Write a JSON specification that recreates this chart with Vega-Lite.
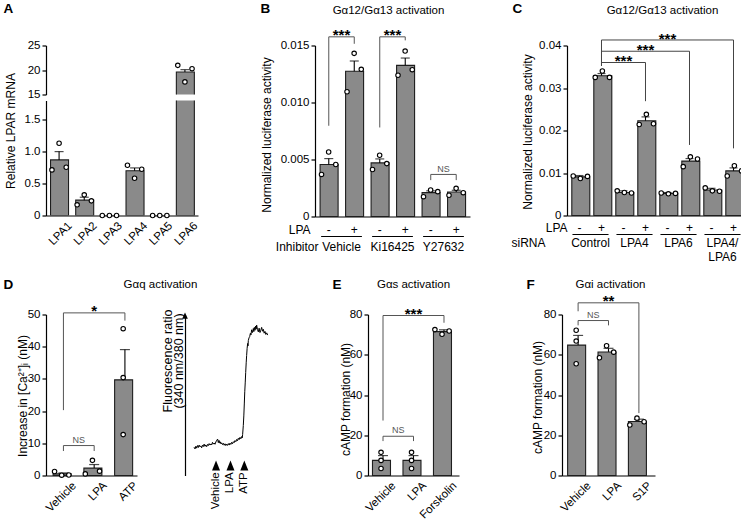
{
  "$schema": "https://vega.github.io/schema/vega-lite/v6.json",
  "padding": {"left": 3, "top": 1.5, "right": 0, "bottom": 0},
  "config": {
    "font": "Liberation Sans",
    "view": {"stroke": null},
    "axis": {"labelFont": "Liberation Sans", "titleFont": "Liberation Sans", "labelFontSize": 11.5, "titleFontSize": 12, "titleFontWeight": "normal", "labelColor": "#000000", "titleColor": "#000000", "domainColor": "#000000", "tickColor": "#000000", "domainWidth": 1.2, "tickWidth": 1.2, "tickSize": 4, "labelPadding": 2, "grid": false, "labelFlush": false, "labelOverlap": false},
    "text": {"font": "Liberation Sans"}
  },
  "datasets": {
    "A_bars": [
      {"gene": "LPA1", "mean": 0.87, "upper": 1.0},
      {"gene": "LPA2", "mean": 0.24, "upper": 0.286},
      {"gene": "LPA3", "mean": 0, "upper": 0},
      {"gene": "LPA4", "mean": 0.70, "upper": 0.745},
      {"gene": "LPA5", "mean": 0, "upper": 0},
      {"gene": "LPA6", "mean": 19.6, "upper": 20.07}
    ],
    "A_pts": [
      {"gene": "LPA1", "rep": "L", "value": 0.714}, {"gene": "LPA1", "rep": "C", "value": 1.13}, {"gene": "LPA1", "rep": "R", "value": 0.755},
      {"gene": "LPA2", "rep": "L", "value": 0.167}, {"gene": "LPA2", "rep": "C", "value": 0.323}, {"gene": "LPA2", "rep": "R", "value": 0.229},
      {"gene": "LPA3", "rep": "L", "value": 0}, {"gene": "LPA3", "rep": "C", "value": 0}, {"gene": "LPA3", "rep": "R", "value": 0},
      {"gene": "LPA4", "rep": "L", "value": 0.786}, {"gene": "LPA4", "rep": "C", "value": 0.583}, {"gene": "LPA4", "rep": "R", "value": 0.724},
      {"gene": "LPA5", "rep": "L", "value": 0}, {"gene": "LPA5", "rep": "C", "value": 0}, {"gene": "LPA5", "rep": "R", "value": 0},
      {"gene": "LPA6", "rep": "L", "value": 20.95}, {"gene": "LPA6", "rep": "C", "value": 17.57}, {"gene": "LPA6", "rep": "R", "value": 20.27}
    ],
    "B_bars": [
      {"cat": "Vehicle -", "mean": 0.00456, "upper": 0.00508},
      {"cat": "Vehicle +", "mean": 0.01274, "upper": 0.01364},
      {"cat": "Ki16425 -", "mean": 0.0047, "upper": 0.00505},
      {"cat": "Ki16425 +", "mean": 0.01326, "upper": 0.0139},
      {"cat": "Y27632 -", "mean": 0.00209, "upper": 0.00225},
      {"cat": "Y27632 +", "mean": 0.00215, "upper": 0.0023}
    ],
    "B_pts": [
      {"cat": "Vehicle -", "rep": "L", "value": 0.00369}, {"cat": "Vehicle -", "rep": "C", "value": 0.00566}, {"cat": "Vehicle -", "rep": "R", "value": 0.00456},
      {"cat": "Vehicle +", "rep": "L", "value": 0.01094}, {"cat": "Vehicle +", "rep": "C", "value": 0.01431}, {"cat": "Vehicle +", "rep": "R", "value": 0.01291},
      {"cat": "Ki16425 -", "rep": "L", "value": 0.00412}, {"cat": "Ki16425 -", "rep": "C", "value": 0.00537}, {"cat": "Ki16425 -", "rep": "R", "value": 0.00464},
      {"cat": "Ki16425 +", "rep": "L", "value": 0.01239}, {"cat": "Ki16425 +", "rep": "C", "value": 0.01451}, {"cat": "Ki16425 +", "rep": "R", "value": 0.01288},
      {"cat": "Y27632 -", "rep": "L", "value": 0.00174}, {"cat": "Y27632 -", "rep": "C", "value": 0.00232}, {"cat": "Y27632 -", "rep": "R", "value": 0.00218},
      {"cat": "Y27632 +", "rep": "L", "value": 0.00186}, {"cat": "Y27632 +", "rep": "C", "value": 0.00247}, {"cat": "Y27632 +", "rep": "R", "value": 0.00209}
    ],
    "B_br": [
      {"left": "Vehicle -", "right": "Vehicle +", "top": 0.01576, "lb": 0.00796, "rb": 0.01515, "label": "***"},
      {"left": "Ki16425 -", "right": "Ki16425 +", "top": 0.01576, "lb": 0.00781, "rb": 0.01545, "label": "***"},
      {"left": "Y27632 -", "right": "Y27632 +", "top": 0.00369, "lb": 0.00319, "rb": 0.00319, "label": "NS"}
    ],
    "B_groups": [{"group": "Vehicle"}, {"group": "Ki16425"}, {"group": "Y27632"}],
    "C_bars": [
      {"cat": "Control -", "mean": 0.0091, "upper": 0.0094},
      {"cat": "Control +", "mean": 0.0329, "upper": 0.0334},
      {"cat": "LPA4 -", "mean": 0.0054, "upper": 0.0058},
      {"cat": "LPA4 +", "mean": 0.0223, "upper": 0.0232},
      {"cat": "LPA6 -", "mean": 0.0052, "upper": 0.0054},
      {"cat": "LPA6 +", "mean": 0.0128, "upper": 0.0134},
      {"cat": "LPA4/LPA6 -", "mean": 0.006, "upper": 0.0064},
      {"cat": "LPA4/LPA6 +", "mean": 0.0105, "upper": 0.0112}
    ],
    "C_pts": [
      {"cat": "Control -", "rep": "L", "value": 0.0093}, {"cat": "Control -", "rep": "C", "value": 0.0087}, {"cat": "Control -", "rep": "R", "value": 0.0092},
      {"cat": "Control +", "rep": "L", "value": 0.0325}, {"cat": "Control +", "rep": "C", "value": 0.034}, {"cat": "Control +", "rep": "R", "value": 0.0325},
      {"cat": "LPA4 -", "rep": "L", "value": 0.0058}, {"cat": "LPA4 -", "rep": "C", "value": 0.0054}, {"cat": "LPA4 -", "rep": "R", "value": 0.0053},
      {"cat": "LPA4 +", "rep": "L", "value": 0.0214}, {"cat": "LPA4 +", "rep": "C", "value": 0.0238}, {"cat": "LPA4 +", "rep": "R", "value": 0.0216},
      {"cat": "LPA6 -", "rep": "L", "value": 0.0053}, {"cat": "LPA6 -", "rep": "C", "value": 0.0051}, {"cat": "LPA6 -", "rep": "R", "value": 0.0052},
      {"cat": "LPA6 +", "rep": "L", "value": 0.0115}, {"cat": "LPA6 +", "rep": "C", "value": 0.0138}, {"cat": "LPA6 +", "rep": "R", "value": 0.0133},
      {"cat": "LPA4/LPA6 -", "rep": "L", "value": 0.0065}, {"cat": "LPA4/LPA6 -", "rep": "C", "value": 0.0058}, {"cat": "LPA4/LPA6 -", "rep": "R", "value": 0.0057},
      {"cat": "LPA4/LPA6 +", "rep": "L", "value": 0.0093}, {"cat": "LPA4/LPA6 +", "rep": "C", "value": 0.0117}, {"cat": "LPA4/LPA6 +", "rep": "R", "value": 0.0105}
    ],
    "C_br": [
      {"left": "Control +", "right": "LPA4 +", "mid": "LPA4 -", "top": 0.036, "lb": 0.0352, "rb": 0.0269, "label": "***"},
      {"left": "Control +", "right": "LPA6 +", "mid": "LPA4 +", "top": 0.03865, "lb": 0.0352, "rb": 0.0166, "label": "***"},
      {"left": "Control +", "right": "LPA4/LPA6 +", "mid": "LPA6 -", "top": 0.0413, "lb": 0.0352, "rb": 0.0158, "label": "***"}
    ],
    "C_groups": [{"group": "Control"}, {"group": "LPA4"}, {"group": "LPA6"}, {"group": "LPA4/LPA6"}],
    "D_bars": [
      {"cond": "Vehicle", "mean": 0.5, "upper": 0.8},
      {"cond": "LPA", "mean": 2.3, "upper": 3.4},
      {"cond": "ATP", "mean": 29.7, "upper": 39.1}
    ],
    "D_pts": [
      {"cond": "Vehicle", "rep": "L", "value": 1.25}, {"cond": "Vehicle", "rep": "C", "value": 0.1}, {"cond": "Vehicle", "rep": "R", "value": 0.15},
      {"cond": "LPA", "rep": "L", "value": 0.5}, {"cond": "LPA", "rep": "C", "value": 4.7}, {"cond": "LPA", "rep": "R", "value": 1.35},
      {"cond": "ATP", "rep": "C", "value": 45.6}, {"cond": "ATP", "rep": "C", "value": 30.4}, {"cond": "ATP", "rep": "C", "value": 12.7}
    ],
    "D_br": [
      {"left": "Vehicle", "right": "ATP", "mid": "LPA", "top": 50.5, "lb": 20.3, "rb": 48.1, "label": "*"},
      {"left": "Vehicle", "right": "LPA", "mid": "Vehicle", "top": 9.3, "lb": 7.6, "rb": 7.6, "label": "NS"}
    ],
    "D_trace": [
      {"t": 10.6, "v": 17.6}, {"t": 11.8, "v": 16.5}, {"t": 12.8, "v": 18.2}, {"t": 13.7, "v": 17.0}, {"t": 14.7, "v": 18.6}, {"t": 15.7, "v": 17.4}, {"t": 16.6, "v": 18.9}, {"t": 17.6, "v": 17.8}, {"t": 18.6, "v": 18.4}, {"t": 19.6, "v": 17.2},
      {"t": 20.6, "v": 18.8}, {"t": 21.6, "v": 18.0}, {"t": 22.5, "v": 19.5}, {"t": 23.5, "v": 18.1}, {"t": 24.5, "v": 19.0}, {"t": 25.5, "v": 17.9}, {"t": 26.5, "v": 19.3}, {"t": 27.5, "v": 18.6}, {"t": 28.4, "v": 19.8}, {"t": 29.4, "v": 18.9},
      {"t": 30.4, "v": 19.6}, {"t": 31.4, "v": 19.0}, {"t": 32.3, "v": 20.6}, {"t": 33.3, "v": 19.5}, {"t": 34.3, "v": 20.2}, {"t": 35.3, "v": 19.4}, {"t": 36.3, "v": 20.8}, {"t": 37.3, "v": 21.9}, {"t": 38.4, "v": 22.6}, {"t": 39.2, "v": 20.4},
      {"t": 40.0, "v": 21.8}, {"t": 41.0, "v": 20.1}, {"t": 41.6, "v": 20.9}, {"t": 42.4, "v": 19.6}, {"t": 43.1, "v": 20.3}, {"t": 44.1, "v": 19.2}, {"t": 45.1, "v": 20.0}, {"t": 46.1, "v": 18.8}, {"t": 47.1, "v": 19.7}, {"t": 48.0, "v": 18.6},
      {"t": 49.0, "v": 19.5}, {"t": 50.0, "v": 18.7}, {"t": 51.0, "v": 19.8}, {"t": 52.0, "v": 18.9}, {"t": 52.9, "v": 20.1}, {"t": 53.9, "v": 19.3}, {"t": 54.9, "v": 20.6}, {"t": 55.9, "v": 19.7}, {"t": 56.9, "v": 21.0}, {"t": 57.8, "v": 20.4},
      {"t": 58.8, "v": 21.7}, {"t": 59.8, "v": 21.0}, {"t": 60.8, "v": 22.4}, {"t": 61.8, "v": 21.6}, {"t": 62.7, "v": 23.1}, {"t": 63.7, "v": 22.3}, {"t": 64.7, "v": 23.7}, {"t": 65.7, "v": 22.8}, {"t": 66.7, "v": 24.2}, {"t": 67.4, "v": 23.4},
      {"t": 67.8, "v": 25.5}, {"t": 68.6, "v": 31.0}, {"t": 69.2, "v": 37.0}, {"t": 69.8, "v": 45.0}, {"t": 70.3, "v": 52.0}, {"t": 70.9, "v": 58.0}, {"t": 71.4, "v": 64.0}, {"t": 72.0, "v": 70.0}, {"t": 72.5, "v": 74.5}, {"t": 73.1, "v": 79.0},
      {"t": 73.7, "v": 82.0}, {"t": 74.1, "v": 80.5}, {"t": 74.5, "v": 83.8}, {"t": 75.3, "v": 85.5}, {"t": 76.1, "v": 86.2}, {"t": 76.9, "v": 88.3}, {"t": 77.6, "v": 87.3}, {"t": 78.4, "v": 90.5}, {"t": 79.4, "v": 88.8}, {"t": 80.4, "v": 91.3},
      {"t": 81.0, "v": 89.4}, {"t": 81.6, "v": 92.0}, {"t": 82.4, "v": 90.2}, {"t": 83.1, "v": 92.8}, {"t": 83.7, "v": 90.9}, {"t": 84.3, "v": 93.4}, {"t": 85.3, "v": 90.6}, {"t": 86.3, "v": 89.2}, {"t": 87.2, "v": 91.5}, {"t": 88.2, "v": 88.8},
      {"t": 89.2, "v": 90.2}, {"t": 90.2, "v": 92.0}, {"t": 91.2, "v": 89.6}, {"t": 92.2, "v": 90.8}, {"t": 93.1, "v": 88.4}, {"t": 94.1, "v": 89.5}, {"t": 95.1, "v": 87.6}, {"t": 96.1, "v": 88.6}, {"t": 97.3, "v": 87.2}
    ],
    "D_stim": [{"stim": "Vehicle", "t": 36.5}, {"stim": "LPA", "t": 53.5}, {"stim": "ATP", "t": 69.8}],
    "E_bars": [
      {"cond": "Vehicle", "mean": 7.5, "upper": 9.9},
      {"cond": "LPA", "mean": 7.5, "upper": 9.9},
      {"cond": "Forskolin", "mean": 71.5, "upper": 72.4}
    ],
    "E_pts": [
      {"cond": "Vehicle", "rep": "C", "value": 11.5}, {"cond": "Vehicle", "rep": "C", "value": 7.5}, {"cond": "Vehicle", "rep": "C", "value": 3.5},
      {"cond": "LPA", "rep": "C", "value": 11.5}, {"cond": "LPA", "rep": "C", "value": 7.5}, {"cond": "LPA", "rep": "C", "value": 3.5},
      {"cond": "Forskolin", "rep": "L", "value": 72.5}, {"cond": "Forskolin", "rep": "C", "value": 70.2}, {"cond": "Forskolin", "rep": "R", "value": 71.8}
    ],
    "E_br": [
      {"left": "Vehicle", "right": "Forskolin", "mid": "LPA", "top": 79.5, "lb": 27.3, "rb": 75.9, "label": "***"},
      {"left": "Vehicle", "right": "LPA", "mid": "Vehicle", "top": 19.5, "lb": 17.1, "rb": 17.1, "label": "NS"}
    ],
    "F_bars": [
      {"cond": "Vehicle", "mean": 64.8, "upper": 69.6},
      {"cond": "LPA", "mean": 61.4, "upper": 63.2},
      {"cond": "S1P", "mean": 26.8, "upper": 28.0}
    ],
    "F_pts": [
      {"cond": "Vehicle", "rep": "C", "value": 72.2}, {"cond": "Vehicle", "rep": "C", "value": 66.8}, {"cond": "Vehicle", "rep": "C", "value": 55.5},
      {"cond": "LPA", "rep": "L", "value": 58.5}, {"cond": "LPA", "rep": "C", "value": 64.5}, {"cond": "LPA", "rep": "R", "value": 61.3},
      {"cond": "S1P", "rep": "L", "value": 25.1}, {"cond": "S1P", "rep": "C", "value": 28.5}, {"cond": "S1P", "rep": "R", "value": 26.7}
    ],
    "F_br": [
      {"left": "Vehicle", "right": "S1P", "mid": "LPA", "top": 85.8, "lb": 81.6, "rb": 31.0, "label": "**"},
      {"left": "Vehicle", "right": "LPA", "mid": "Vehicle", "top": 77.0, "lb": 74.6, "rb": 74.6, "label": "NS"}
    ]
  },
  "spacing": 14,
  "vconcat": [
    {
      "spacing": 40,
      "hconcat": [
        {
          "spacing": 59,
          "hconcat": [
            {
              "bounds": "flush",
              "spacing": 6,
              "vconcat": [
                {
                  "width": 152, "height": 49,
                  "layer": [
                    {
                      "data": {"name": "A_bars"},
                      "transform": [{"filter": "datum.gene == 'LPA6'"}],
                      "mark": {"type": "bar", "clip": true, "fill": "#8a8a8a", "stroke": "#1e1e1e", "strokeWidth": 1.1},
                      "encoding": {
                        "x": {"field": "gene", "type": "nominal", "scale": {"domain": ["LPA1", "LPA2", "LPA3", "LPA4", "LPA5", "LPA6"], "paddingInner": 0.32, "paddingOuter": 0.18},
                          "axis": {"orient": "top", "labels": false, "ticks": false, "domain": false, "title": "A", "titleX": -43, "titleY": -36.7, "titleAlign": "left", "titleBaseline": "middle", "titleAngle": 0, "titleFontSize": 13.5, "titleFontWeight": "bold"}},
                        "y": {"field": "mean", "type": "quantitative", "scale": {"domain": [15, 25], "nice": false, "zero": false}, "axis": {"values": [15, 20, 25], "tickCount": 20, "format": "d", "title": null, "labelOverlap": false}}
                      }
                    },
                    {
                      "data": {"name": "A_bars"},
                      "transform": [{"filter": "datum.gene == 'LPA6'"}],
                      "mark": {"type": "rule", "color": "#000000", "strokeWidth": 1.1},
                      "encoding": {"x": {"field": "gene", "type": "nominal"}, "y": {"field": "mean", "type": "quantitative"}, "y2": {"field": "upper"}}
                    },
                    {
                      "data": {"name": "A_bars"},
                      "transform": [{"filter": "datum.gene == 'LPA6'"}],
                      "mark": {"type": "tick", "color": "#000000", "thickness": 1.2, "size": 9},
                      "encoding": {"x": {"field": "gene", "type": "nominal"}, "y": {"field": "upper", "type": "quantitative"}}
                    },
                    {
                      "data": {"name": "A_pts"},
                      "transform": [{"filter": "datum.gene == 'LPA6'"}],
                      "mark": {"type": "point", "shape": "circle", "filled": true, "fill": "#ffffff", "stroke": "#000000", "strokeWidth": 1.1, "size": 20, "opacity": 1},
                      "encoding": {"x": {"field": "gene", "type": "nominal"}, "xOffset": {"field": "rep", "type": "nominal", "scale": {"domain": ["L", "C", "R"], "paddingInner": 0, "paddingOuter": 0.2}}, "y": {"field": "value", "type": "quantitative"}}
                    }
                  ]
                },
                {
                  "width": 152, "height": 115,
                  "layer": [
                    {
                      "data": {"name": "A_bars"},
                      "mark": {"type": "bar", "clip": true, "fill": "#8a8a8a", "stroke": "#1e1e1e", "strokeWidth": 1.1},
                      "encoding": {
                        "x": {"field": "gene", "type": "nominal", "scale": {"domain": ["LPA1", "LPA2", "LPA3", "LPA4", "LPA5", "LPA6"], "paddingInner": 0.32, "paddingOuter": 0.18},
                          "axis": {"orient": "bottom", "ticks": false, "labelAngle": -45, "labelAlign": "right", "labelBaseline": "top", "labelPadding": 4, "labelOffset": 7, "title": null, "labelOverlap": false}},
                        "y": {"field": "mean", "type": "quantitative", "scale": {"domain": [0, 1.8], "nice": false, "zero": false},
                          "axis": {"values": [0, 0.5, 1, 1.5], "tickCount": 20, "labelExpr": "datum.value == 0 ? '0' : format(datum.value, '.1f')", "title": "Relative LPAR mRNA", "titleX": -36, "titleY": 30, "titleAlign": "center", "titleBaseline": "middle", "labelOverlap": false}}
                      }
                    },
                    {
                      "data": {"name": "A_bars"},
                      "transform": [{"filter": "datum.gene != 'LPA6' && datum.upper > datum.mean"}],
                      "mark": {"type": "rule", "color": "#000000", "strokeWidth": 1.1},
                      "encoding": {"x": {"field": "gene", "type": "nominal"}, "y": {"field": "mean", "type": "quantitative"}, "y2": {"field": "upper"}}
                    },
                    {
                      "data": {"name": "A_bars"},
                      "transform": [{"filter": "datum.gene != 'LPA6' && datum.upper > datum.mean"}],
                      "mark": {"type": "tick", "color": "#000000", "thickness": 1.2, "size": 9},
                      "encoding": {"x": {"field": "gene", "type": "nominal"}, "y": {"field": "upper", "type": "quantitative"}}
                    },
                    {
                      "data": {"name": "A_pts"},
                      "transform": [{"filter": "datum.gene != 'LPA6'"}],
                      "mark": {"type": "point", "shape": "circle", "filled": true, "fill": "#ffffff", "stroke": "#000000", "strokeWidth": 1.1, "size": 20, "opacity": 1},
                      "encoding": {"x": {"field": "gene", "type": "nominal"}, "xOffset": {"field": "rep", "type": "nominal", "scale": {"domain": ["L", "C", "R"], "paddingInner": 0, "paddingOuter": 0.2}}, "y": {"field": "value", "type": "quantitative"}}
                    }
                  ]
                }
              ]
            },
            {
              "width": 155, "height": 171,
              "layer": [
                {
                  "layer": [
                    {
                      "data": {"name": "B_bars"},
                      "mark": {"type": "bar", "fill": "#8a8a8a", "stroke": "#1e1e1e", "strokeWidth": 1.1},
                      "encoding": {
                        "x": {"field": "cat", "type": "nominal", "scale": {"domain": ["Vehicle -", "Vehicle +", "Ki16425 -", "Ki16425 +", "Y27632 -", "Y27632 +"], "paddingInner": 0.32, "paddingOuter": 0.2},
                          "axis": {"orient": "bottom", "ticks": false, "labelAngle": 0, "labelAlign": "center", "labelBaseline": "middle", "labelPadding": 13, "labelFontSize": 12, "labelExpr": "indexof(datum.label, '+') >= 0 ? '+' : '-'", "title": "LPA", "titleX": -5, "titleY": 13, "titleAlign": "right", "titleBaseline": "middle", "titleAngle": 0, "labelOverlap": false}},
                        "y": {"field": "mean", "type": "quantitative", "scale": {"domain": [0, 0.015], "nice": false, "zero": false},
                          "axis": {"values": [0, 0.005, 0.01, 0.015], "tickCount": 20, "labelExpr": "datum.value == 0 ? '0' : format(datum.value, '.3f')", "title": "Normalized luciferase activity", "titleX": -49, "titleY": 89, "titleAlign": "center", "titleBaseline": "middle", "labelOverlap": false}}
                      }
                    },
                    {
                      "data": {"name": "B_bars"},
                      "mark": {"type": "rule", "color": "#000000", "strokeWidth": 1.1},
                      "encoding": {
                        "x": {"field": "cat", "type": "nominal", "axis": {"orient": "top", "labels": false, "ticks": false, "domain": false, "title": "Gα12/Gα13 activation", "titleX": 73, "titleY": -35, "titleAlign": "center", "titleBaseline": "middle", "titleAngle": 0, "titleFontSize": 11.5}},
                        "y": {"field": "mean", "type": "quantitative"}, "y2": {"field": "upper"}
                      }
                    },
                    {
                      "data": {"name": "B_bars"},
                      "mark": {"type": "tick", "color": "#000000", "thickness": 1.2, "size": 9},
                      "encoding": {"x": {"field": "cat", "type": "nominal", "axis": null}, "y": {"field": "upper", "type": "quantitative"}}
                    },
                    {
                      "data": {"name": "B_pts"},
                      "mark": {"type": "point", "shape": "circle", "filled": true, "fill": "#ffffff", "stroke": "#000000", "strokeWidth": 1.1, "size": 20, "opacity": 1},
                      "encoding": {
                        "x": {"field": "cat", "type": "nominal", "axis": {"orient": "top", "labels": false, "ticks": false, "domain": false, "title": "B", "titleX": -55, "titleY": -36.7, "titleAlign": "left", "titleBaseline": "middle", "titleAngle": 0, "titleFontSize": 13.5, "titleFontWeight": "bold"}},
                        "xOffset": {"field": "rep", "type": "nominal", "scale": {"domain": ["L", "C", "R"], "paddingInner": 0, "paddingOuter": 0.23}},
                        "y": {"field": "value", "type": "quantitative"}
                      }
                    },
                    {
                      "data": {"name": "B_br"},
                      "mark": {"type": "rule", "color": "#555555", "strokeWidth": 1},
                      "encoding": {"x": {"field": "left", "type": "nominal", "bandPosition": 0.5, "axis": null}, "x2": {"field": "right", "bandPosition": 0.5}, "y": {"field": "top", "type": "quantitative"}}
                    },
                    {
                      "data": {"name": "B_br"},
                      "mark": {"type": "rule", "color": "#555555", "strokeWidth": 1},
                      "encoding": {"x": {"field": "left", "type": "nominal", "bandPosition": 0.5, "axis": null}, "y": {"field": "lb", "type": "quantitative"}, "y2": {"field": "top"}}
                    },
                    {
                      "data": {"name": "B_br"},
                      "mark": {"type": "rule", "color": "#555555", "strokeWidth": 1},
                      "encoding": {"x": {"field": "right", "type": "nominal", "bandPosition": 0.5, "axis": null}, "y": {"field": "rb", "type": "quantitative"}, "y2": {"field": "top"}}
                    },
                    {
                      "data": {"name": "B_br"},
                      "transform": [{"filter": "datum.label != 'NS'"}],
                      "mark": {"type": "text", "fontSize": 15, "fontWeight": "bold", "baseline": "alphabetic", "align": "center", "dy": 3.6, "color": "#000000"},
                      "encoding": {"x": {"field": "left", "type": "nominal", "bandPosition": 1.235, "axis": null}, "y": {"field": "top", "type": "quantitative"}, "text": {"field": "label"}}
                    },
                    {
                      "data": {"name": "B_br"},
                      "transform": [{"filter": "datum.label == 'NS'"}],
                      "mark": {"type": "text", "fontSize": 9, "baseline": "alphabetic", "align": "center", "dy": -2.8, "color": "#555555"},
                      "encoding": {"x": {"field": "left", "type": "nominal", "bandPosition": 1.235, "axis": null}, "y": {"field": "top", "type": "quantitative"}, "text": {"field": "label"}}
                    }
                  ],
                  "resolve": {"axis": {"x": "independent"}}
                },
                {
                  "data": {"name": "B_groups"},
                  "mark": {"type": "rule", "color": "#000000", "strokeWidth": 1.1},
                  "encoding": {
                    "x": {"field": "group", "type": "nominal", "bandPosition": 0, "scale": {"domain": ["Vehicle", "Ki16425", "Y27632"], "paddingInner": 0.2, "paddingOuter": 0.12},
                      "axis": {"orient": "bottom", "domain": false, "ticks": false, "labelAngle": 0, "labelAlign": "center", "labelBaseline": "top", "labelPadding": 24.5, "labelFontSize": 12, "title": "Inhibitor", "titleX": 3, "titleY": 29.5, "titleAlign": "right", "titleBaseline": "middle", "titleAngle": 0, "labelOverlap": false}},
                    "x2": {"field": "group", "bandPosition": 1},
                    "y": {"datum": -0.00175}
                  }
                }
              ],
              "resolve": {"scale": {"x": "independent"}, "axis": {"x": "independent"}}
            }
          ]
        },
        {
          "width": 179, "height": 170,
          "layer": [
            {
              "layer": [
                {
                  "data": {"name": "C_bars"},
                  "mark": {"type": "bar", "fill": "#8a8a8a", "stroke": "#1e1e1e", "strokeWidth": 1.1},
                  "encoding": {
                    "x": {"field": "cat", "type": "nominal", "scale": {"domain": ["Control -", "Control +", "LPA4 -", "LPA4 +", "LPA6 -", "LPA6 +", "LPA4/LPA6 -", "LPA4/LPA6 +"], "paddingInner": 0.3, "paddingOuter": 0.218},
                      "axis": {"orient": "bottom", "ticks": false, "labelAngle": 0, "labelAlign": "center", "labelBaseline": "middle", "labelPadding": 11.7, "labelFontSize": 12, "labelExpr": "indexof(datum.label, '+') >= 0 ? '+' : '-'", "title": "LPA", "titleX": 0, "titleY": 11.7, "titleAlign": "right", "titleBaseline": "middle", "titleAngle": 0, "labelOverlap": false}},
                    "y": {"field": "mean", "type": "quantitative", "scale": {"domain": [0, 0.04], "nice": false, "zero": false},
                      "axis": {"values": [0, 0.01, 0.02, 0.03, 0.04], "tickCount": 20, "labelExpr": "datum.value == 0 ? '0' : format(datum.value, '.2f')", "title": "Normalized luciferase activity", "titleX": -40, "titleY": 86, "titleAlign": "center", "titleBaseline": "middle", "labelOverlap": false}}
                  }
                },
                {
                  "data": {"name": "C_bars"},
                  "mark": {"type": "rule", "color": "#000000", "strokeWidth": 1.1},
                  "encoding": {
                    "x": {"field": "cat", "type": "nominal", "axis": {"orient": "top", "labels": false, "ticks": false, "domain": false, "title": "Gα12/Gα13 activation", "titleX": 95, "titleY": -35, "titleAlign": "center", "titleBaseline": "middle", "titleAngle": 0, "titleFontSize": 11.5}},
                    "y": {"field": "mean", "type": "quantitative"}, "y2": {"field": "upper"}
                  }
                },
                {
                  "data": {"name": "C_bars"},
                  "mark": {"type": "tick", "color": "#000000", "thickness": 1.2, "size": 8},
                  "encoding": {"x": {"field": "cat", "type": "nominal", "axis": null}, "y": {"field": "upper", "type": "quantitative"}}
                },
                {
                  "data": {"name": "C_pts"},
                  "mark": {"type": "point", "shape": "circle", "filled": true, "fill": "#ffffff", "stroke": "#000000", "strokeWidth": 1.1, "size": 20, "opacity": 1},
                  "encoding": {
                    "x": {"field": "cat", "type": "nominal", "axis": {"orient": "top", "labels": false, "ticks": false, "domain": false, "title": "C", "titleX": -55, "titleY": -36.7, "titleAlign": "left", "titleBaseline": "middle", "titleAngle": 0, "titleFontSize": 13.5, "titleFontWeight": "bold"}},
                    "xOffset": {"field": "rep", "type": "nominal", "scale": {"domain": ["L", "C", "R"], "paddingInner": 0, "paddingOuter": 0.04}},
                    "y": {"field": "value", "type": "quantitative"}
                  }
                },
                {
                  "data": {"name": "C_br"},
                  "mark": {"type": "rule", "color": "#444444", "strokeWidth": 1},
                  "encoding": {"x": {"field": "left", "type": "nominal", "bandPosition": 0.5, "axis": null}, "x2": {"field": "right", "bandPosition": 0.5}, "y": {"field": "top", "type": "quantitative"}}
                },
                {
                  "data": {"name": "C_br"},
                  "mark": {"type": "rule", "color": "#444444", "strokeWidth": 1},
                  "encoding": {"x": {"field": "left", "type": "nominal", "bandPosition": 0.5, "axis": null}, "y": {"field": "lb", "type": "quantitative"}, "y2": {"field": "top"}}
                },
                {
                  "data": {"name": "C_br"},
                  "mark": {"type": "rule", "color": "#444444", "strokeWidth": 1},
                  "encoding": {"x": {"field": "right", "type": "nominal", "bandPosition": 0.5, "axis": null}, "y": {"field": "rb", "type": "quantitative"}, "y2": {"field": "top"}}
                },
                {
                  "data": {"name": "C_br"},
                  "mark": {"type": "text", "fontSize": 15, "fontWeight": "bold", "baseline": "alphabetic", "align": "center", "dy": 3.6, "color": "#000000"},
                  "encoding": {"x": {"field": "mid", "type": "nominal", "bandPosition": 0.5, "axis": null}, "y": {"field": "top", "type": "quantitative"}, "text": {"field": "label"}}
                }
              ],
              "resolve": {"axis": {"x": "independent"}}
            },
            {
              "data": {"name": "C_groups"},
              "mark": {"type": "rule", "color": "#000000", "strokeWidth": 1.1},
              "encoding": {
                "x": {"field": "group", "type": "nominal", "bandPosition": 0, "scale": {"domain": ["Control", "LPA4", "LPA6", "LPA4/LPA6"], "paddingInner": 0.18, "paddingOuter": 0.124},
                  "axis": {"orient": "bottom", "domain": false, "ticks": false, "labelAngle": 0, "labelAlign": "center", "labelBaseline": "top", "labelPadding": 21.7, "labelFontSize": 12, "labelLineHeight": 14, "labelExpr": "datum.label == 'LPA4/LPA6' ? ['LPA4/', 'LPA6'] : datum.label", "title": "siRNA", "titleX": -22, "titleY": 26.7, "titleAlign": "right", "titleBaseline": "middle", "titleAngle": 0, "labelOverlap": false}},
                "x2": {"field": "group", "bandPosition": 1},
                "y": {"datum": -0.00447}
              }
            }
          ],
          "resolve": {"scale": {"x": "independent"}, "axis": {"x": "independent"}}
        }
      ]
    },
    {
      "spacing": 62,
      "hconcat": [
        {
          "bounds": "flush",
          "spacing": 48,
          "hconcat": [
            {
              "width": 91, "height": 161,
              "layer": [
                {
                  "data": {"name": "D_bars"},
                  "mark": {"type": "bar", "fill": "#8a8a8a", "stroke": "#1e1e1e", "strokeWidth": 1.1},
                  "encoding": {
                    "x": {"field": "cond", "type": "nominal", "scale": {"domain": ["Vehicle", "LPA", "ATP"], "paddingInner": 0.33, "paddingOuter": 0.145, "align": 0.8},
                      "axis": {"orient": "bottom", "ticks": false, "labelAngle": -45, "labelAlign": "right", "labelBaseline": "top", "labelPadding": 4, "labelOffset": 7, "title": null, "labelOverlap": false}},
                    "y": {"field": "mean", "type": "quantitative", "scale": {"domain": [0, 50], "nice": false, "zero": false},
                      "axis": {"values": [0, 10, 20, 30, 40, 50], "tickCount": 20, "format": "d", "title": "Increase in [Ca²⁺]ᵢ (nM)", "titleX": -24, "titleY": 81, "titleAlign": "center", "titleBaseline": "middle", "labelOverlap": false}}
                  }
                },
                {
                  "data": {"name": "D_bars"},
                  "mark": {"type": "rule", "color": "#000000", "strokeWidth": 1.1},
                  "encoding": {
                    "x": {"field": "cond", "type": "nominal", "axis": {"orient": "top", "labels": false, "ticks": false, "domain": false, "title": "Gαq activation", "titleX": 114, "titleY": -30, "titleAlign": "center", "titleBaseline": "middle", "titleAngle": 0, "titleFontSize": 11.5}},
                    "y": {"field": "mean", "type": "quantitative"}, "y2": {"field": "upper"}
                  }
                },
                {
                  "data": {"name": "D_bars"},
                  "mark": {"type": "tick", "color": "#000000", "thickness": 1.2, "size": 10},
                  "encoding": {"x": {"field": "cond", "type": "nominal", "axis": null}, "y": {"field": "upper", "type": "quantitative"}}
                },
                {
                  "data": {"name": "D_pts"},
                  "mark": {"type": "point", "shape": "circle", "filled": true, "fill": "#ffffff", "stroke": "#000000", "strokeWidth": 1.1, "size": 20, "opacity": 1},
                  "encoding": {
                    "x": {"field": "cond", "type": "nominal", "axis": {"orient": "top", "labels": false, "ticks": false, "domain": false, "title": "D", "titleX": -43, "titleY": -30.5, "titleAlign": "left", "titleBaseline": "middle", "titleAngle": 0, "titleFontSize": 13.5, "titleFontWeight": "bold"}},
                    "xOffset": {"field": "rep", "type": "nominal", "scale": {"domain": ["L", "C", "R"], "paddingInner": 0, "paddingOuter": 0.25}},
                    "y": {"field": "value", "type": "quantitative"}
                  }
                },
                {
                  "data": {"name": "D_br"},
                  "mark": {"type": "rule", "color": "#555555", "strokeWidth": 1},
                  "encoding": {"x": {"field": "left", "type": "nominal", "bandPosition": 0.5, "axis": null}, "x2": {"field": "right", "bandPosition": 0.5}, "y": {"field": "top", "type": "quantitative"}}
                },
                {
                  "data": {"name": "D_br"},
                  "mark": {"type": "rule", "color": "#555555", "strokeWidth": 1},
                  "encoding": {"x": {"field": "left", "type": "nominal", "bandPosition": 0.5, "axis": null}, "y": {"field": "lb", "type": "quantitative"}, "y2": {"field": "top"}}
                },
                {
                  "data": {"name": "D_br"},
                  "mark": {"type": "rule", "color": "#555555", "strokeWidth": 1},
                  "encoding": {"x": {"field": "right", "type": "nominal", "bandPosition": 0.5, "axis": null}, "y": {"field": "rb", "type": "quantitative"}, "y2": {"field": "top"}}
                },
                {
                  "data": {"name": "D_br"},
                  "transform": [{"filter": "datum.label != 'NS'"}],
                  "mark": {"type": "text", "fontSize": 15, "fontWeight": "bold", "baseline": "alphabetic", "align": "center", "dy": 3.6, "color": "#000000"},
                  "encoding": {"x": {"field": "mid", "type": "nominal", "bandPosition": 0.5, "axis": null}, "y": {"field": "top", "type": "quantitative"}, "text": {"field": "label"}}
                },
                {
                  "data": {"name": "D_br"},
                  "transform": [{"filter": "datum.label == 'NS'"}],
                  "mark": {"type": "text", "fontSize": 9, "baseline": "alphabetic", "align": "center", "dy": -2.8, "color": "#555555"},
                  "encoding": {"x": {"field": "left", "type": "nominal", "bandPosition": 1.246, "axis": null}, "y": {"field": "top", "type": "quantitative"}, "text": {"field": "label"}}
                }
              ],
              "resolve": {"axis": {"x": "independent"}}
            },
            {
              "width": 85, "height": 161,
              "layer": [
                {
                  "data": {"name": "D_trace"},
                  "mark": {"type": "line", "color": "#000000", "strokeWidth": 1},
                  "encoding": {
                    "x": {"field": "t", "type": "quantitative", "scale": {"domain": [0, 100], "nice": false, "zero": false}, "axis": null},
                    "y": {"field": "v", "type": "quantitative", "scale": {"domain": [0, 100], "nice": false, "zero": false},
                      "axis": {"ticks": false, "labels": false, "domain": true, "title": ["Fluorescence ratio", "(340 nm/380 nm)"], "titleX": -24, "titleY": 46, "titleAlign": "center", "titleBaseline": "top", "titleFontSize": 12.5, "titleLineHeight": 11}}
                  }
                },
                {
                  "data": {"values": [{}]},
                  "mark": {"type": "point", "shape": "M0,-1L0.9,1L-0.9,1Z", "filled": true, "color": "#000000", "size": 40, "opacity": 1},
                  "encoding": {"x": {"datum": 0}, "y": {"datum": 99.3}}
                },
                {
                  "data": {"name": "D_stim"},
                  "mark": {"type": "point", "shape": "M0,-1L0.8,1L-0.8,1Z", "filled": true, "color": "#000000", "size": 100, "opacity": 1},
                  "encoding": {"x": {"field": "t", "type": "quantitative"}, "y": {"datum": 6.2}}
                },
                {
                  "data": {"name": "D_stim"},
                  "mark": {"type": "text", "angle": 270, "align": "right", "baseline": "middle", "fontSize": 11.5, "color": "#000000"},
                  "encoding": {"x": {"field": "t", "type": "quantitative"}, "y": {"datum": 2}, "text": {"field": "stim"}}
                }
              ]
            }
          ]
        },
        {
          "bounds": "flush",
          "spacing": 103,
          "hconcat": [
            {
              "width": 91, "height": 161,
              "layer": [
                {
                  "data": {"name": "E_bars"},
                  "mark": {"type": "bar", "fill": "#8a8a8a", "stroke": "#1e1e1e", "strokeWidth": 1.1},
                  "encoding": {
                    "x": {"field": "cond", "type": "nominal", "scale": {"domain": ["Vehicle", "LPA", "Forskolin"], "paddingInner": 0.31, "paddingOuter": 0.147},
                      "axis": {"orient": "bottom", "ticks": false, "labelAngle": -45, "labelAlign": "right", "labelBaseline": "top", "labelPadding": 4, "labelOffset": 7, "title": null, "labelOverlap": false}},
                    "y": {"field": "mean", "type": "quantitative", "scale": {"domain": [0, 80], "nice": false, "zero": false},
                      "axis": {"values": [0, 20, 40, 60, 80], "tickCount": 20, "format": "d", "title": "cAMP formation (nM)", "titleX": -23, "titleY": 84.5, "titleAlign": "center", "titleBaseline": "middle", "labelOverlap": false}}
                  }
                },
                {
                  "data": {"name": "E_bars"},
                  "mark": {"type": "rule", "color": "#000000", "strokeWidth": 1.1},
                  "encoding": {
                    "x": {"field": "cond", "type": "nominal", "axis": {"orient": "top", "labels": false, "ticks": false, "domain": false, "title": "Gαs activation", "titleX": 45, "titleY": -30, "titleAlign": "center", "titleBaseline": "middle", "titleAngle": 0, "titleFontSize": 11.5}},
                    "y": {"field": "mean", "type": "quantitative"}, "y2": {"field": "upper"}
                  }
                },
                {
                  "data": {"name": "E_bars"},
                  "mark": {"type": "tick", "color": "#000000", "thickness": 1.2, "size": 10},
                  "encoding": {"x": {"field": "cond", "type": "nominal", "axis": null}, "y": {"field": "upper", "type": "quantitative"}}
                },
                {
                  "data": {"name": "E_pts"},
                  "mark": {"type": "point", "shape": "circle", "filled": true, "fill": "#ffffff", "stroke": "#000000", "strokeWidth": 1.1, "size": 20, "opacity": 1},
                  "encoding": {
                    "x": {"field": "cond", "type": "nominal", "axis": {"orient": "top", "labels": false, "ticks": false, "domain": false, "title": "E", "titleX": -36, "titleY": -30.5, "titleAlign": "left", "titleBaseline": "middle", "titleAngle": 0, "titleFontSize": 13.5, "titleFontWeight": "bold"}},
                    "xOffset": {"field": "rep", "type": "nominal", "scale": {"domain": ["L", "C", "R"], "paddingInner": 0, "paddingOuter": 0.25}},
                    "y": {"field": "value", "type": "quantitative"}
                  }
                },
                {
                  "data": {"name": "E_br"},
                  "mark": {"type": "rule", "color": "#555555", "strokeWidth": 1},
                  "encoding": {"x": {"field": "left", "type": "nominal", "bandPosition": 0.5, "axis": null}, "x2": {"field": "right", "bandPosition": 0.5}, "y": {"field": "top", "type": "quantitative"}}
                },
                {
                  "data": {"name": "E_br"},
                  "mark": {"type": "rule", "color": "#555555", "strokeWidth": 1},
                  "encoding": {"x": {"field": "left", "type": "nominal", "bandPosition": 0.5, "axis": null}, "y": {"field": "lb", "type": "quantitative"}, "y2": {"field": "top"}}
                },
                {
                  "data": {"name": "E_br"},
                  "mark": {"type": "rule", "color": "#555555", "strokeWidth": 1},
                  "encoding": {"x": {"field": "right", "type": "nominal", "bandPosition": 0.5, "axis": null}, "y": {"field": "rb", "type": "quantitative"}, "y2": {"field": "top"}}
                },
                {
                  "data": {"name": "E_br"},
                  "transform": [{"filter": "datum.label != 'NS'"}],
                  "mark": {"type": "text", "fontSize": 15, "fontWeight": "bold", "baseline": "alphabetic", "align": "center", "dy": 3.6, "color": "#000000"},
                  "encoding": {"x": {"field": "mid", "type": "nominal", "bandPosition": 0.5, "axis": null}, "y": {"field": "top", "type": "quantitative"}, "text": {"field": "label"}}
                },
                {
                  "data": {"name": "E_br"},
                  "transform": [{"filter": "datum.label == 'NS'"}],
                  "mark": {"type": "text", "fontSize": 9, "baseline": "alphabetic", "align": "center", "dy": -2.8, "color": "#555555"},
                  "encoding": {"x": {"field": "left", "type": "nominal", "bandPosition": 1.225, "axis": null}, "y": {"field": "top", "type": "quantitative"}, "text": {"field": "label"}}
                }
              ],
              "resolve": {"axis": {"x": "independent"}}
            },
            {
              "width": 93, "height": 161,
              "layer": [
                {
                  "data": {"name": "F_bars"},
                  "mark": {"type": "bar", "fill": "#8a8a8a", "stroke": "#1e1e1e", "strokeWidth": 1.1},
                  "encoding": {
                    "x": {"field": "cond", "type": "nominal", "scale": {"domain": ["Vehicle", "LPA", "S1P"], "paddingInner": 0.31, "paddingOuter": 0.185},
                      "axis": {"orient": "bottom", "ticks": false, "labelAngle": -45, "labelAlign": "right", "labelBaseline": "top", "labelPadding": 4, "labelOffset": 7, "title": null, "labelOverlap": false}},
                    "y": {"field": "mean", "type": "quantitative", "scale": {"domain": [0, 80], "nice": false, "zero": false},
                      "axis": {"values": [0, 20, 40, 60, 80], "tickCount": 20, "format": "d", "title": "cAMP formation (nM)", "titleX": -25, "titleY": 82.5, "titleAlign": "center", "titleBaseline": "middle", "labelOverlap": false}}
                  }
                },
                {
                  "data": {"name": "F_bars"},
                  "mark": {"type": "rule", "color": "#000000", "strokeWidth": 1.1},
                  "encoding": {
                    "x": {"field": "cond", "type": "nominal", "axis": {"orient": "top", "labels": false, "ticks": false, "domain": false, "title": "Gαi activation", "titleX": 48, "titleY": -30, "titleAlign": "center", "titleBaseline": "middle", "titleAngle": 0, "titleFontSize": 11.5}},
                    "y": {"field": "mean", "type": "quantitative"}, "y2": {"field": "upper"}
                  }
                },
                {
                  "data": {"name": "F_bars"},
                  "mark": {"type": "tick", "color": "#000000", "thickness": 1.2, "size": 10},
                  "encoding": {"x": {"field": "cond", "type": "nominal", "axis": null}, "y": {"field": "upper", "type": "quantitative"}}
                },
                {
                  "data": {"name": "F_pts"},
                  "mark": {"type": "point", "shape": "circle", "filled": true, "fill": "#ffffff", "stroke": "#000000", "strokeWidth": 1.1, "size": 20, "opacity": 1},
                  "encoding": {
                    "x": {"field": "cond", "type": "nominal", "axis": {"orient": "top", "labels": false, "ticks": false, "domain": false, "title": "F", "titleX": -36, "titleY": -30.5, "titleAlign": "left", "titleBaseline": "middle", "titleAngle": 0, "titleFontSize": 13.5, "titleFontWeight": "bold"}},
                    "xOffset": {"field": "rep", "type": "nominal", "scale": {"domain": ["L", "C", "R"], "paddingInner": 0, "paddingOuter": 0.25}},
                    "y": {"field": "value", "type": "quantitative"}
                  }
                },
                {
                  "data": {"name": "F_br"},
                  "mark": {"type": "rule", "color": "#555555", "strokeWidth": 1},
                  "encoding": {"x": {"field": "left", "type": "nominal", "bandPosition": 0.5, "axis": null}, "x2": {"field": "right", "bandPosition": 0.5}, "y": {"field": "top", "type": "quantitative"}}
                },
                {
                  "data": {"name": "F_br"},
                  "mark": {"type": "rule", "color": "#555555", "strokeWidth": 1},
                  "encoding": {"x": {"field": "left", "type": "nominal", "bandPosition": 0.5, "axis": null}, "y": {"field": "lb", "type": "quantitative"}, "y2": {"field": "top"}}
                },
                {
                  "data": {"name": "F_br"},
                  "mark": {"type": "rule", "color": "#555555", "strokeWidth": 1},
                  "encoding": {"x": {"field": "right", "type": "nominal", "bandPosition": 0.5, "axis": null}, "y": {"field": "rb", "type": "quantitative"}, "y2": {"field": "top"}}
                },
                {
                  "data": {"name": "F_br"},
                  "transform": [{"filter": "datum.label != 'NS'"}],
                  "mark": {"type": "text", "fontSize": 15, "fontWeight": "bold", "baseline": "alphabetic", "align": "center", "dy": 3.6, "color": "#000000"},
                  "encoding": {"x": {"field": "mid", "type": "nominal", "bandPosition": 0.5, "axis": null}, "y": {"field": "top", "type": "quantitative"}, "text": {"field": "label"}}
                },
                {
                  "data": {"name": "F_br"},
                  "transform": [{"filter": "datum.label == 'NS'"}],
                  "mark": {"type": "text", "fontSize": 9, "baseline": "alphabetic", "align": "center", "dy": -2.8, "color": "#555555"},
                  "encoding": {"x": {"field": "left", "type": "nominal", "bandPosition": 1.225, "axis": null}, "y": {"field": "top", "type": "quantitative"}, "text": {"field": "label"}}
                }
              ],
              "resolve": {"axis": {"x": "independent"}}
            }
          ]
        }
      ]
    }
  ]
}
